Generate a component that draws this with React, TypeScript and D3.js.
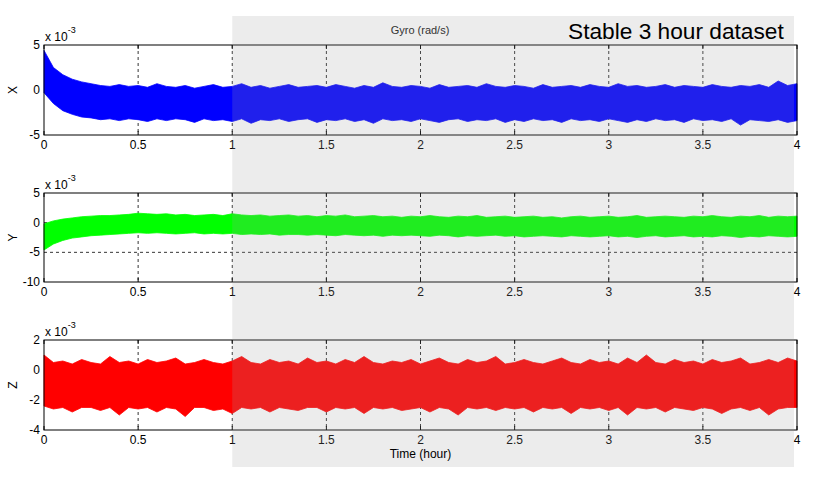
import { useRef, useEffect } from "react";
import * as d3 from "d3";

// sampled every 0.05 h, envelope (min / max) of the gyro signal, units 1e-3 rad/s
const TIME = d3.range(81).map((i) => i * 0.05);

const X_UPPER = [
  4.4, 2.5, 1.7, 1.2, 0.9, 0.7, 0.5, 0.4, 0.6, 0.4,
  0.5, 0.3, 0.7, 0.4, 0.3, 0.5, 0.2, 0.4, 0.6, 0.3,
  0.4, 0.7, 0.3, 0.5, 0.2, 0.4, 0.6, 0.3, 0.4, 0.5,
  0.3, 0.6, 0.4, 0.2, 0.5, 0.3, 0.8, 0.4, 0.3, 0.5,
  0.4, 0.2, 0.6, 0.3, 0.4, 0.5, 0.3, 0.7, 0.4, 0.3,
  0.5, 0.4, 0.2, 0.6, 0.3, 0.4, 0.5, 0.3, 0.6, 0.4,
  0.3, 0.7, 0.4, 0.5, 0.3, 0.4, 0.6, 0.3, 0.5, 0.4,
  0.3, 0.6, 0.4, 0.3, 0.5, 0.4, 0.6, 0.3, 1.0, 0.5,
  0.7,
];
const X_LOWER = [
  -0.3, -1.5, -2.3, -2.7, -3.0, -3.1, -3.3, -3.2, -3.4, -3.2,
  -3.3, -3.5, -3.2, -3.4, -3.2, -3.3, -3.6, -3.2, -3.4, -3.3,
  -3.5, -3.2, -3.7, -3.3, -3.4, -3.2, -3.5, -3.3, -3.2, -3.6,
  -3.3, -3.4, -3.2, -3.5, -3.3, -3.7, -3.2, -3.4, -3.3, -3.5,
  -3.2, -3.4, -3.6, -3.3, -3.2, -3.5, -3.3, -3.4, -3.2, -3.6,
  -3.3, -3.5, -3.2, -3.4, -3.3, -3.6, -3.2, -3.4, -3.3, -3.5,
  -3.2, -3.4, -3.6, -3.3, -3.5, -3.2, -3.4, -3.3, -3.6, -3.2,
  -3.4, -3.3, -3.5, -3.2, -3.9, -3.3, -3.4, -3.5, -3.3, -3.6,
  -3.4,
];
const Y_UPPER = [
  -0.2, 0.3, 0.6, 0.8, 1.0, 1.1, 1.2, 1.2, 1.3, 1.4,
  1.6, 1.5, 1.4, 1.5, 1.3, 1.4, 1.2, 1.3, 1.4, 1.2,
  1.5, 1.3, 1.2, 1.3, 1.1, 1.2, 1.3, 1.1, 1.2, 1.0,
  1.2, 1.1, 1.3, 1.0, 1.1, 1.2, 1.0, 1.1, 0.9, 1.1,
  1.0, 1.2, 1.0, 0.9, 1.1, 1.0, 1.2, 0.9, 1.0, 1.1,
  0.9, 1.0, 1.1, 0.9, 1.0, 0.8, 1.0, 1.1, 0.9, 1.0,
  1.1, 0.9, 1.0, 1.2, 0.9, 1.0, 1.1, 1.0, 0.9, 1.1,
  1.0, 1.2, 1.0, 0.9, 1.1, 1.0, 1.2, 0.9, 1.1, 1.0,
  1.1,
];
const Y_LOWER = [
  -4.6, -3.6, -3.0, -2.6, -2.4, -2.2, -2.1, -2.0, -1.9, -1.8,
  -1.7, -1.8, -1.7, -1.8, -1.9, -1.8, -1.7, -1.9, -1.8, -1.9,
  -1.8, -2.0, -1.9, -2.0, -1.9, -2.1, -2.0, -2.0, -2.1, -2.0,
  -2.1, -2.2, -2.0, -2.1, -2.2, -2.1, -2.3, -2.1, -2.2, -2.1,
  -2.2, -2.3, -2.1, -2.2, -2.4, -2.2, -2.3, -2.2, -2.1, -2.3,
  -2.2, -2.4, -2.3, -2.2, -2.3, -2.4, -2.2, -2.3, -2.4, -2.3,
  -2.2, -2.4, -2.3, -2.5, -2.3, -2.2, -2.4, -2.3, -2.2, -2.4,
  -2.3, -2.4, -2.2, -2.3, -2.5, -2.3, -2.4, -2.2, -2.3, -2.4,
  -2.3,
];
const Z_UPPER = [
  1.0, 0.5, 0.6, 0.4, 0.7, 0.5, 0.4, 0.9, 0.5, 0.6,
  0.4, 0.7, 0.5, 0.6, 0.8, 0.4, 0.5, 0.7, 0.5, 0.4,
  0.6, 0.9, 0.5, 0.4, 0.7, 0.5, 0.6, 0.4, 0.8, 0.5,
  0.6, 0.4, 0.7, 0.5, 0.9, 0.5, 0.4, 0.6, 0.5, 0.7,
  0.4, 0.6, 0.8, 0.5, 0.4, 0.7, 0.5, 0.6, 0.9, 0.4,
  0.5, 0.7, 0.5, 0.4, 0.6, 0.8, 0.5, 0.4, 0.7, 0.5,
  0.6, 0.4, 0.8, 0.5, 1.0, 0.5, 0.4, 0.7, 0.5, 0.6,
  0.4, 0.7, 0.5, 0.6, 0.8, 0.4, 0.5, 0.7, 0.5, 0.8,
  0.6,
];
const Z_LOWER = [
  -2.4, -2.6, -2.5, -2.8, -2.5, -2.5, -2.7, -2.5, -3.0, -2.5,
  -2.6, -2.5, -2.8, -2.5, -2.6, -3.1, -2.5, -2.5, -2.7, -2.6,
  -2.9, -2.5, -2.6, -2.5, -2.8, -2.5, -2.6, -2.7, -2.5, -2.5,
  -2.8, -2.5, -2.6, -2.5, -2.9, -2.5, -2.6, -2.5, -2.7, -2.6,
  -2.5, -2.8, -2.5, -2.6, -3.0, -2.5, -2.6, -2.5, -2.7, -2.5,
  -2.6, -2.5, -2.8, -2.5, -2.6, -2.5, -2.9, -2.5, -2.6, -2.5,
  -2.7, -2.5, -3.0, -2.5, -2.6, -2.5, -2.8, -2.5, -2.6, -2.7,
  -2.5, -2.6, -2.9, -2.6, -2.5, -2.7, -2.5, -3.0, -2.6, -2.5,
  -2.5,
];

const X_TICKS = [0, 0.5, 1, 1.5, 2, 2.5, 3, 3.5, 4];

const PANELS = [
  { label: "X", color: "#0000ff", upper: X_UPPER, lower: X_LOWER, domain: [-5, 5], ticks: [-5, 0, 5], top: 45, bottom: 135 },
  { label: "Y", color: "#00ff00", upper: Y_UPPER, lower: Y_LOWER, domain: [-10, 5], ticks: [-10, -5, 0, 5], top: 193, bottom: 282 },
  { label: "Z", color: "#ff0000", upper: Z_UPPER, lower: Z_LOWER, domain: [-4, 2], ticks: [-4, -2, 0, 2], top: 340, bottom: 430 },
];

const FONT = "'Liberation Sans', Arial, sans-serif";

export default function App() {
  const svgRef = useRef<SVGSVGElement>(null);

  useEffect(() => {
    if (!svgRef.current) return;
    const width = 827;
    const height = 482;
    const left = 44;
    const right = 797;

    const svg = d3.select(svgRef.current);
    svg.selectAll("*").remove();
    svg.attr("width", width).attr("height", height);

    svg.append("rect").attr("width", width).attr("height", height).attr("fill", "#fff");

    const xScale = d3.scaleLinear().domain([0, 4]).range([left, right]);

    PANELS.forEach((p) => {
      const yScale = d3.scaleLinear().domain(p.domain).range([p.bottom, p.top]);
      const g = svg.append("g");

      // dashed grid
      X_TICKS.slice(1, -1).forEach((t) => {
        g.append("line")
          .attr("x1", xScale(t)).attr("x2", xScale(t))
          .attr("y1", p.top).attr("y2", p.bottom)
          .attr("stroke", "#000")
          .attr("stroke-dasharray", "3,3")
          .attr("stroke-width", 0.8);
      });
      p.ticks.slice(1, -1).forEach((v) => {
        g.append("line")
          .attr("x1", left).attr("x2", right)
          .attr("y1", yScale(v)).attr("y2", yScale(v))
          .attr("stroke", "#000")
          .attr("stroke-dasharray", "3,3")
          .attr("stroke-width", 0.8);
      });

      // signal envelope
      const area = d3
        .area<number>()
        .x((_, i) => xScale(TIME[i]))
        .y0((_, i) => yScale(p.lower[i]))
        .y1((d) => yScale(d));
      g.append("path")
        .datum(p.upper)
        .attr("d", area)
        .attr("fill", p.color)
        .attr("stroke", p.color)
        .attr("stroke-width", 0.8);

      // box
      g.append("rect")
        .attr("x", left).attr("y", p.top)
        .attr("width", right - left).attr("height", p.bottom - p.top)
        .attr("fill", "none").attr("stroke", "#000").attr("stroke-width", 1);

      // inward ticks
      X_TICKS.forEach((t) => {
        [p.bottom, p.top].forEach((y, k) => {
          g.append("line")
            .attr("x1", xScale(t)).attr("x2", xScale(t))
            .attr("y1", y).attr("y2", k === 0 ? y - 4 : y + 4)
            .attr("stroke", "#000");
        });
        g.append("text")
          .attr("x", xScale(t)).attr("y", p.bottom + 14)
          .attr("text-anchor", "middle")
          .attr("font-family", FONT).attr("font-size", 12)
          .text(String(t));
      });
      p.ticks.forEach((v) => {
        g.append("text")
          .attr("x", left - 4).attr("y", yScale(v) + 4)
          .attr("text-anchor", "end")
          .attr("font-family", FONT).attr("font-size", 12)
          .text(String(v));
      });

      // exponent
      const ex = g.append("text")
        .attr("x", left + 1).attr("y", p.top - 4)
        .attr("font-family", FONT).attr("font-size", 12);
      ex.append("tspan").text("x 10");
      ex.append("tspan").attr("dy", -8).attr("font-size", 9).text("-3");

      g.append("text")
        .attr("transform", `translate(17,${(p.top + p.bottom) / 2}) rotate(-90)`)
        .attr("text-anchor", "middle")
        .attr("font-family", FONT).attr("font-size", 12)
        .text(p.label);
    });

    // shaded region from 1 h onward
    svg.append("rect")
      .attr("x", xScale(1)).attr("y", 16)
      .attr("width", 794 - xScale(1)).attr("height", 467 - 16)
      .attr("fill", "#a0a0a0").attr("opacity", 0.2);

    svg.append("text")
      .attr("x", (left + right) / 2).attr("y", 458)
      .attr("text-anchor", "middle")
      .attr("font-family", FONT).attr("font-size", 12)
      .text("Time (hour)");

    svg.append("text")
      .attr("x", 420).attr("y", 34)
      .attr("text-anchor", "middle")
      .attr("fill", "#333")
      .attr("font-family", FONT).attr("font-size", 11)
      .text("Gyro (rad/s)");

    svg.append("text")
      .attr("x", 568).attr("y", 39)
      .attr("font-family", FONT).attr("font-size", 22.7)
      .text("Stable 3 hour dataset");
  }, []);

  return (
    <svg ref={svgRef} style={{ position: "absolute", left: 0, top: 0, display: "block" }} />
  );
}
